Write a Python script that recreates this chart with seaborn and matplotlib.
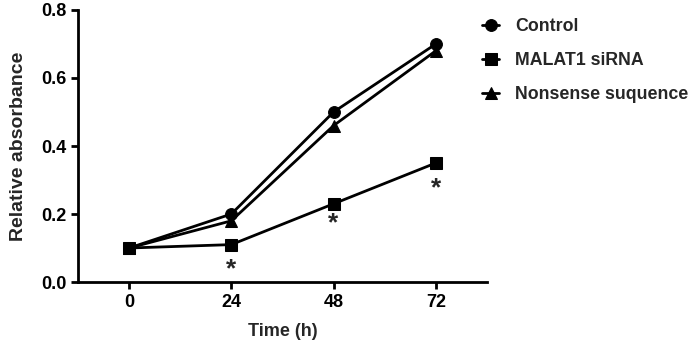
import seaborn as sns
import matplotlib.pyplot as plt
import pandas as pd

time_h = [0, 24, 48, 72]
control = [0.10, 0.20, 0.50, 0.70]
malat1_sirna = [0.10, 0.11, 0.23, 0.35]
nonsense = [0.10, 0.18, 0.46, 0.68]
groups = ['Control', 'MALAT1 siRNA', 'Nonsense suquence']
star_times = [24, 48, 72]

df = pd.DataFrame({
    'Time (h)': time_h * 3,
    'Relative absorbance': control + malat1_sirna + nonsense,
    'group': [g for g in groups for _ in time_h],
})

sns.set_style('ticks')
plt.rcParams['font.family'] = ['Liberation Sans', 'DejaVu Sans']
plt.rcParams['font.weight'] = 'bold'
plt.rcParams['axes.labelweight'] = 'bold'

fig = plt.figure(figsize=(6.99, 3.53), dpi=100)
ax = fig.add_axes([0.1116, 0.2011, 0.585, 0.7706])

sns.lineplot(data=df, x='Time (h)', y='Relative absorbance', hue='group',
             style='group', hue_order=groups, style_order=groups,
             markers=['o', 's', '^'], dashes=False, palette=['black'] * 3,
             linewidth=2, markersize=8.5, markeredgecolor='black', ax=ax)

# significance stars under siRNA points
sirna = dict(zip(time_h, malat1_sirna))
for t, off in zip(star_times, [-18, -14, -18]):
    ax.annotate('*', (t, sirna[t]), xytext=(0, off), textcoords='offset points',
                ha='center', va='center', fontsize=19, fontweight='bold')

ax.set_xlim(-12, 84)
ax.set_ylim(0, 0.8)
ax.set_xticks(time_h)
ax.set_yticks([0.0, 0.2, 0.4, 0.6, 0.8])
ax.set_yticklabels(['0.0', '0.2', '0.4', '0.6', '0.8'])
ax.tick_params(labelsize=13, width=2, length=5, color='black', labelcolor='black')
for s in ['left', 'bottom']:
    ax.spines[s].set_linewidth(2)
    ax.spines[s].set_color('black')
sns.despine(ax=ax)
ax.set_xlabel('Time (h)', fontsize=13, labelpad=9)
ax.set_ylabel('Relative absorbance', fontsize=14, labelpad=10)

sns.move_legend(ax, 'upper left', bbox_to_anchor=(0.684, 0.958),
                bbox_transform=fig.transFigure, frameon=False, title=None,
                fontsize=12.8, labelspacing=0.95, handlelength=1.0,
                handletextpad=0.9, borderpad=0.2, borderaxespad=0)

fig.savefig('out.png', dpi=100)
